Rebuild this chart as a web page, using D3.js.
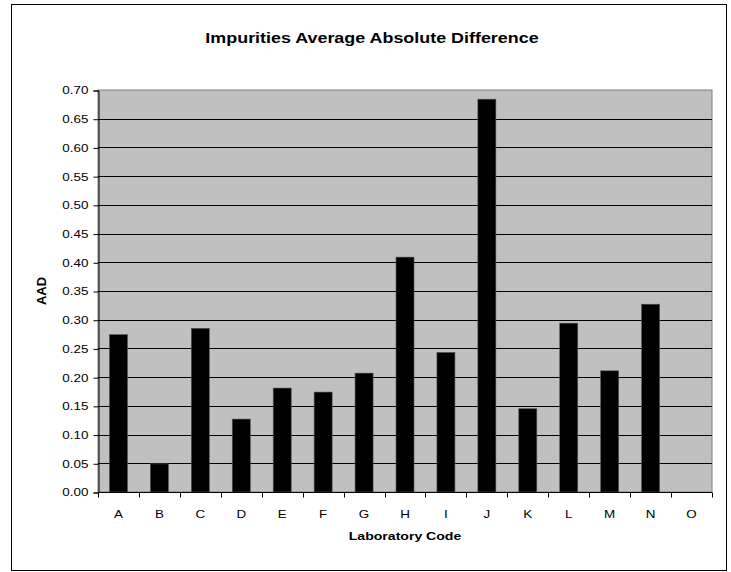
<!DOCTYPE html>
<html>
<head>
<meta charset="utf-8">
<script src="https://cdnjs.cloudflare.com/ajax/libs/d3/7.8.5/d3.min.js"></script>
<style>
  body { margin: 0; background: #fff; }
  text { font-family: "Liberation Sans", Arial, sans-serif; }
</style>
</head>
<body>
<svg id="chart" width="731" height="572"></svg>
<script>
var labs = ["A","B","C","D","E","F","G","H","I","J","K","L","M","N","O"];
var aad = [0.274, 0.049, 0.285, 0.127, 0.181, 0.174, 0.207, 0.409, 0.243, 0.684, 0.145, 0.294, 0.211, 0.327, 0];
var yTicks = [0,0.05,0.1,0.15,0.2,0.25,0.3,0.35,0.4,0.45,0.5,0.55,0.6,0.65,0.7];

var svg = d3.select("#chart");
var sx = 1.28; // the reference's lettering is stretched sideways

// outer chart border
svg.append("rect")
    .attr("x", 11.5).attr("y", 4.5)
    .attr("width", 715).attr("height", 566)
    .attr("fill", "#fff")
    .attr("stroke", "#000").attr("stroke-width", 1);

// plot area edges (don't call one "top", it is window.top)
var pL = 98, pR = 712, pT = 90, pB = 492;

var x = d3.scaleBand().domain(labs).range([pL, pR]).paddingInner(0.56).paddingOuter(0.28);
var xb = d3.scaleBand().domain(labs).range([pL, pR]);
var y = d3.scaleLinear().domain([0, 0.7]).range([pB, pT]);

// plot area
svg.append("rect")
    .attr("x", pL).attr("y", pT)
    .attr("width", pR - pL).attr("height", pB - pT)
    .attr("fill", "#c0c0c0")
    .attr("stroke", "#808080").attr("stroke-width", 1);

// gridlines
svg.append("g")
    .selectAll("line")
    .data(yTicks.slice(1, -1))
    .enter()
    .append("line")
    .attr("x1", pL).attr("x2", pR)
    .attr("y1", function (d) { return Math.round(y(d)) + 0.5; })
    .attr("y2", function (d) { return Math.round(y(d)) + 0.5; })
    .attr("stroke", "#000").attr("stroke-width", 1);

// bars
svg.append("g")
    .selectAll("rect")
    .data(labs)
    .enter()
    .append("rect")
    .attr("x", function (d) { return x(d); })
    .attr("width", x.bandwidth())
    .attr("y", function (d, i) { return y(aad[i]); })
    .attr("height", function (d, i) { return pB - y(aad[i]); })
    .attr("fill", "#000")
    .attr("stroke", "#555").attr("stroke-width", 0.6);

// y axis
var yAxis = svg.append("g")
    .attr("transform", "translate(" + (pL + 0.5) + ",0.5)")
    .call(d3.axisLeft(y).tickValues(yTicks).tickFormat(d3.format(".2f")).tickSize(5).tickPadding(5));
yAxis.selectAll("text")
    .attr("font-size", 10.5)
    .attr("font-family", "Liberation Sans, Arial, sans-serif")
    .attr("fill", "#000")
    .attr("x", -10 / sx)
    .attr("transform", "scale(" + sx + ",1)");
yAxis.select(".domain").attr("stroke", "#000");
yAxis.selectAll(".tick line").attr("stroke", "#000");

// x axis: ticks sit between categories
var xAxisG = svg.append("g").attr("transform", "translate(0," + (pB + 0.5) + ")");
xAxisG.append("line")
    .attr("x1", pL).attr("x2", pR)
    .attr("stroke", "#000");
xAxisG.selectAll(".xt")
    .data(labs.concat(["end"]))
    .enter()
    .append("line")
    .attr("class", "xt")
    .attr("x1", function (d, i) { return Math.round(pL + i * xb.step()) + 0.5; })
    .attr("x2", function (d, i) { return Math.round(pL + i * xb.step()) + 0.5; })
    .attr("y1", 0).attr("y2", 5)
    .attr("stroke", "#000");
xAxisG.selectAll("text")
    .data(labs)
    .enter()
    .append("text")
    .attr("transform", function (d) {
        return "translate(" + (xb(d) + xb.bandwidth() / 2) + ",25) scale(" + sx + ",1)";
    })
    .attr("text-anchor", "middle")
    .attr("font-size", 10.5)
    .text(function (d) { return d; });

// titles
svg.append("text")
    .attr("transform", "translate(372,43) scale(" + sx + ",1)")
    .attr("text-anchor", "middle")
    .attr("font-size", 14).attr("font-weight", "bold")
    .text("Impurities Average Absolute Difference");

svg.append("text")
    .attr("transform", "translate(405,540) scale(" + sx + ",1)")
    .attr("text-anchor", "middle")
    .attr("font-size", 11).attr("font-weight", "bold")
    .text("Laboratory Code");

svg.append("text")
    .attr("transform", "translate(46,291) rotate(-90)")
    .attr("text-anchor", "middle")
    .attr("font-size", 13).attr("font-weight", "bold")
    .text("AAD");
</script>
</body>
</html>
